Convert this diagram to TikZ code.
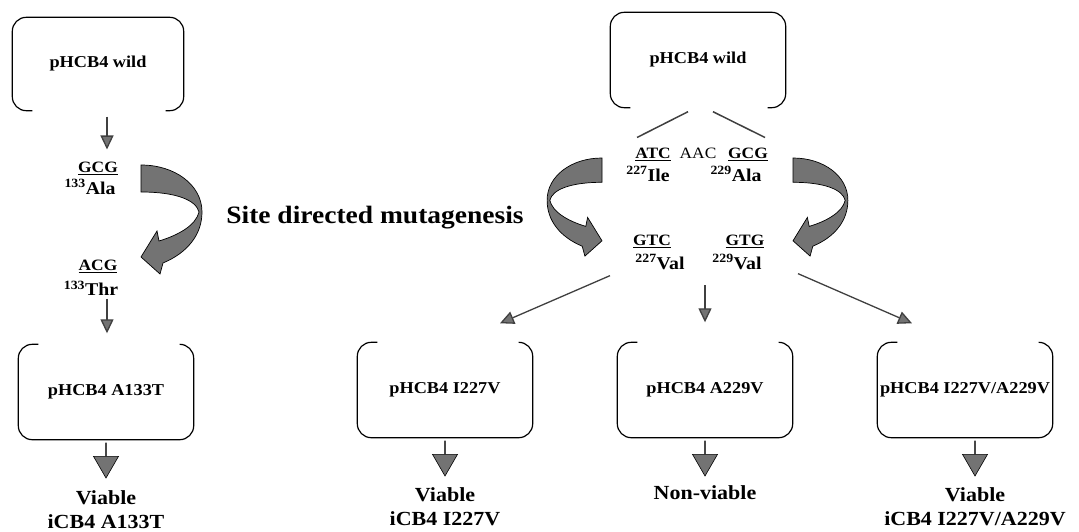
\documentclass[tikz,border=0pt]{standalone}
\usepackage{fontspec}
\setmainfont{Liberation Serif}[FakeStretch=1.1]
\usetikzlibrary{positioning, shapes.arrows, arrows.meta, calc}

\begin{document}
\begin{tikzpicture}[
      x=1pt, y=-1pt,
      box/.style={minimum width=175pt, minimum height=95pt, inner sep=0pt,
        font=\fontsize{16.6}{19}\selectfont\bfseries},
      boxline/.style={line width=1.2pt, rounded corners=14pt},
      codon/.style={inner sep=0pt, font=\fontsize{15.8}{17}\selectfont\bfseries},
      plaincodon/.style={inner sep=0pt, font=\fontsize{15.8}{17}\selectfont},
      amino/.style={inner sep=0pt, font=\fontsize{18}{20}\selectfont\bfseries},
      result/.style={inner sep=0pt, align=center, font=\fontsize{20}{24}\selectfont\bfseries},
      title/.style={inner sep=0pt, font=\fontsize{25}{28}\selectfont\bfseries},
      blockarrow/.style={single arrow, draw=black, fill=black!55, line width=0.6pt,
        minimum height=35pt, minimum width=25pt, single arrow head extend=8.5pt,
        single arrow tip angle=60, shape border rotate=270, inner sep=0pt},
      thinarrow/.style={draw=black!75, line width=1.3pt,
        -{Triangle[width=13pt, length=14pt, fill=black!55]}},
      stem/.style={draw=black!75, line width=1.5pt},
      ribbonfill/.style={fill=black!55, draw=black, line width=0.7pt},
      ribbon/.pic={
        \filldraw[ribbonfill] (0,0) .. controls (34,0) and (61,20) .. (61,47)
          .. controls (61,70) and (46,88) .. (22,98) -- (19,109) -- (0,92) -- (16,66) -- (18,76)
          .. controls (38,70) and (55,60) .. (58,47)
          .. controls (55,35) and (35,27) .. (0,27) -- cycle;
      }
    ]
    \useasboundingbox (0,0) rectangle (1079,532);

    % Left: single mutation
    \node[box, minimum width=171pt, minimum height=93pt] (wildL) at (98,64) {pHCB4 wild};
    \node[codon] (gcgL) at (98,168) {\underline{GCG}};
    \node[amino] (alaL) at (90,187) {\textsuperscript{133}Ala};
    \node[codon] (acgL) at (98,266) {\underline{ACG}};
    \node[amino] (thrL) at (91,288) {\textsuperscript{133}Thr};
    \node[box] (mutL) at (106,392) {pHCB4 A133T};
    \node[blockarrow, below=3pt of mutL] (arrL) {};
    \node[result, below=12pt of arrL] (viaL) {Viable\\iCB4 A133T};

    \draw[thinarrow] ($(wildL.south)+(9,6)$) -- ($(gcgL.north)+(9,-12)$);
    \draw[thinarrow] ($(thrL.south)+(16,3)$) -- ($(mutL.north)+(1,-11)$);
    \pic at (141,165) {ribbon};

    \node[title] (sdm) at (375,218) {Site directed mutagenesis};

    % Right: two sites
    \node[box] (wildR) at (698,60) {pHCB4 wild};
    \node[codon] (atc) at (653,154) {\underline{ATC}};
    \node[plaincodon] (aac) at (698,153) {AAC};
    \node[codon] (gcgR) at (748,154) {\underline{GCG}};
    \node[amino] (ile) at (648,174) {\textsuperscript{227}Ile};
    \node[amino] (alaR) at (736,174) {\textsuperscript{229}Ala};
    \node[codon] (gtc) at (652,241) {\underline{GTC}};
    \node[codon] (gtg) at (745,241) {\underline{GTG}};
    \node[amino] (val227) at (660,262) {\textsuperscript{227}Val};
    \node[amino] (val229) at (737,262) {\textsuperscript{229}Val};

    \draw[stem] ($(wildR.south)+(-10,4)$) -- ($(atc.north)+(-16,-10)$);
    \draw[stem] ($(wildR.south)+(15,4)$) -- ($(gcgR.north)+(17,-10)$);
    \pic[xscale=-0.9, yscale=0.9] at (602,158) {ribbon};
    \pic[scale=0.9] at (793,158) {ribbon};

    % Mutants
    \node[box] (boxI) at (445,390) {pHCB4 I227V};
    \node[box] (boxA) at (705,390) {pHCB4 A229V};
    \node[box] (boxIA) at (965,390) {pHCB4 I227V/A229V};
    \node[blockarrow, below=3pt of boxI] (arrI) {};
    \node[blockarrow, below=3pt of boxA] (arrA) {};
    \node[blockarrow, below=3pt of boxIA, xshift=10pt] (arrIA) {};
    \node[result, below=11pt of arrI] (viaI) {Viable\\iCB4 I227V};
    \node[result, below=9pt of arrA] (nonA) {Non-viable};
    \node[result, below=11pt of arrIA] (viaIA) {Viable\\iCB4 I227V/A229V};

    \draw[thinarrow] ($(val227.south)+(-50,6)$) -- ($(boxI.north)+(55,-19)$);
    \draw[thinarrow] ($(boxA.north)+(0,-57)$) -- ($(boxA.north)+(0,-20)$);
    \draw[thinarrow] ($(val229.south)+(61,4)$) -- ($(boxIA.north)+(-53,-19)$);

    % Open box outlines
    \foreach \b in {wildL, wildR}
      \draw[boxline] ($(\b.south west)+(20,0)$) -- (\b.south west) -- (\b.north west)
        -- (\b.north east) -- (\b.south east) -- ($(\b.south east)+(-18,0)$);
    \foreach \b in {mutL, boxI, boxA, boxIA}
      \draw[boxline] ($(\b.north west)+(20,0)$) -- (\b.north west) -- (\b.south west)
        -- (\b.south east) -- (\b.north east) -- ($(\b.north east)+(-14,0)$);

  \end{tikzpicture}
\end{document}
